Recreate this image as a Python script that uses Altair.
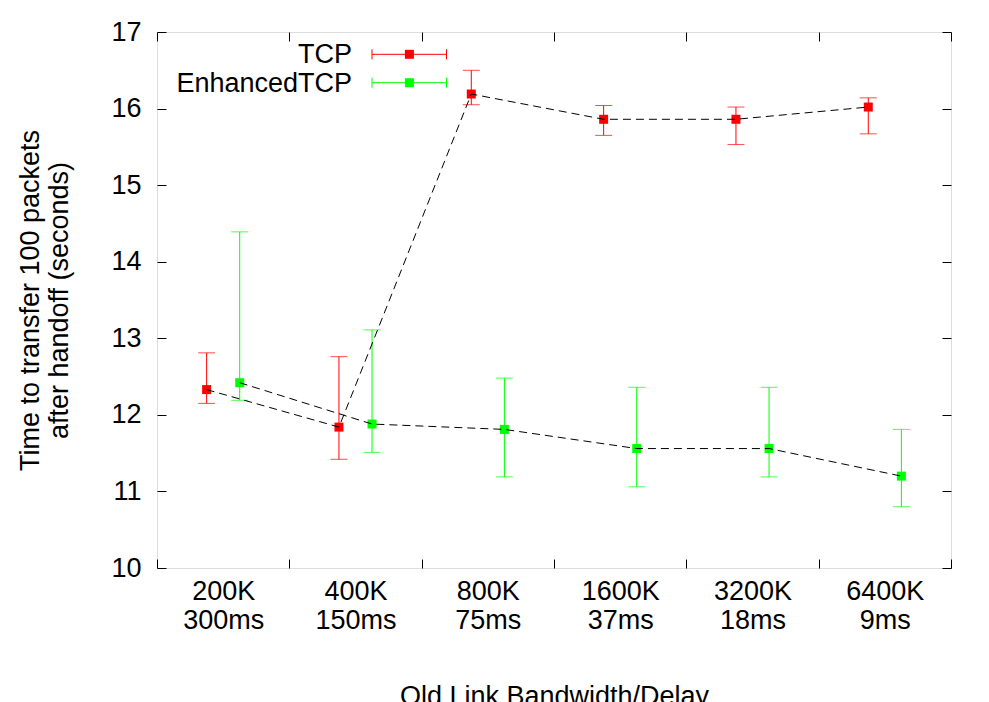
import altair as alt
import pandas as pd

bandwidths = ["200K", "400K", "800K", "1600K", "3200K", "6400K"]
delays = ["300ms", "150ms", "75ms", "37ms", "18ms", "9ms"]
series_names = ["TCP", "EnhancedTCP"]
series_colors = ["#ff0000", "#00ff00"]

tcp_mean = [12.33, 11.84, 16.19, 15.86, 15.86, 16.02]
tcp_low = [12.15, 11.42, 16.05, 15.65, 15.53, 15.67]
tcp_high = [12.81, 12.76, 16.50, 16.04, 16.02, 16.14]

enh_mean = [12.42, 11.88, 11.81, 11.56, 11.56, 11.20]
enh_low = [12.19, 11.51, 11.19, 11.06, 11.19, 10.80]
enh_high = [14.39, 13.11, 12.48, 12.36, 12.36, 11.81]

y_ticks = [10, 11, 12, 13, 14, 15, 16, 17]
x_title = "Old Link Bandwidth/Delay"
y_title = ["Time to transfer 100 packets", "after handoff (seconds)"]

cats = [f"{b}|{d}" for b, d in zip(bandwidths, delays)]
rows = []
for name, m, lo, hi in [("TCP", tcp_mean, tcp_low, tcp_high),
                        ("EnhancedTCP", enh_mean, enh_low, enh_high)]:
    for c, a, b, h in zip(cats, m, lo, hi):
        rows.append({"cat": c, "series": name, "mean": a, "lo": b, "hi": h})
df = pd.DataFrame(rows)

FONT = "Liberation Sans"
FS = 27
W, H = 794, 536

xscale = alt.Scale(type="band", paddingInner=0, paddingOuter=0)
yscale = alt.Scale(domain=[10, 17], nice=False, zero=False)

x_main = alt.X("cat:N", sort=cats, scale=xscale, title=x_title,
               axis=alt.Axis(orient="bottom", labelExpr="split(datum.label, '|')",
                             labelFont=FONT, labelFontSize=FS, labelColor="black",
                             labelPadding=10, labelLineHeight=29, labelAngle=0,
                             labelBaseline="top",
                             tickBand="extent", tickSize=9, tickColor="black",
                             offset=-9, domain=False, grid=False,
                             titleFont=FONT, titleFontSize=FS, titleFontWeight="normal",
                             titleColor="black", titlePadding=50))
xo = alt.XOffset("series:N", sort=series_names,
                 scale=alt.Scale(type="band", paddingInner=0, paddingOuter=1))
color = alt.Color("series:N", scale=alt.Scale(domain=series_names, range=series_colors),
                  legend=None)


def yenc(field):
    return alt.Y(f"{field}:Q", scale=yscale, title=y_title,
                 axis=alt.Axis(values=y_ticks, labelFont=FONT, labelFontSize=FS,
                               labelColor="black", labelPadding=16, tickSize=9,
                               tickColor="black", offset=-9, domain=False, grid=False,
                               titleFont=FONT, titleFontSize=FS, titleFontWeight="normal",
                               titleColor="black", titleLineHeight=29, titlePadding=37))


base = alt.Chart(df)
rules = base.mark_rule(strokeWidth=1).encode(x=x_main, xOffset=xo, y=yenc("lo"), y2="hi:Q", color=color)
caps_lo = base.mark_tick(orient="horizontal", size=17, thickness=1).encode(
    x=x_main, xOffset=xo, y=yenc("lo"), color=color)
caps_hi = base.mark_tick(orient="horizontal", size=17, thickness=1).encode(
    x=x_main, xOffset=xo, y=yenc("hi"), color=color)
pts = base.mark_square(size=81, opacity=1).encode(x=x_main, xOffset=xo, y=yenc("mean"), color=color)
line = base.mark_line(color="black", strokeDash=[8, 5], strokeWidth=1).encode(
    x=x_main, xOffset=xo, y=yenc("mean"), detail="series:N")

# legend (top-left, gnuplot style)
legend_layers = []
legend_y = [22.3, 50.7]
for name, col, ly in zip(series_names, series_colors, legend_y):
    ld = pd.DataFrame({"label": [name]})
    lc = alt.Chart(ld)
    legend_layers.append(lc.mark_text(align="right", baseline="middle", font=FONT,
                                      fontSize=FS, color="black").encode(
        text="label:N", x=alt.value(195), y=alt.value(ly + 1)))
    legend_layers.append(lc.mark_rule(color=col, strokeWidth=1).encode(
        x=alt.value(215), x2=alt.value(289.5), y=alt.value(ly)))
    legend_layers.append(lc.mark_rule(color=col, strokeWidth=1).encode(
        x=alt.value(215), y=alt.value(ly - 5), y2=alt.value(ly + 5)))
    legend_layers.append(lc.mark_rule(color=col, strokeWidth=1).encode(
        x=alt.value(289.5), y=alt.value(ly - 5), y2=alt.value(ly + 5)))
    legend_layers.append(lc.mark_square(size=81, opacity=1, color=col).encode(
        x=alt.value(252.4), y=alt.value(ly)))

inner = alt.layer(rules, caps_lo, caps_hi, pts, line, *legend_layers)

mirror = base.mark_point(opacity=0).encode(
    x=alt.X("cat:N", sort=cats, scale=xscale,
            axis=alt.Axis(orient="top", labels=False, domain=False, tickBand="extent",
                          tickSize=9, tickColor="black", offset=-9, title=None, grid=False)),
    y=alt.Y("mean:Q", scale=yscale,
            axis=alt.Axis(orient="right", values=y_ticks, labels=False, domain=False,
                          tickSize=9, tickColor="black", offset=-9, title=None, grid=False)),
)

chart = alt.layer(inner, mirror).resolve_axis(x="independent", y="independent").properties(
    width=W, height=H,
    autosize=alt.AutoSizeParams(type="none"),
    padding={"left": 149, "top": 24, "right": 30, "bottom": 150},
).configure_view(stroke="black", strokeWidth=1).configure(background="white")

chart.save("out.html", embed_options={"renderer": "svg", "actions": False})
